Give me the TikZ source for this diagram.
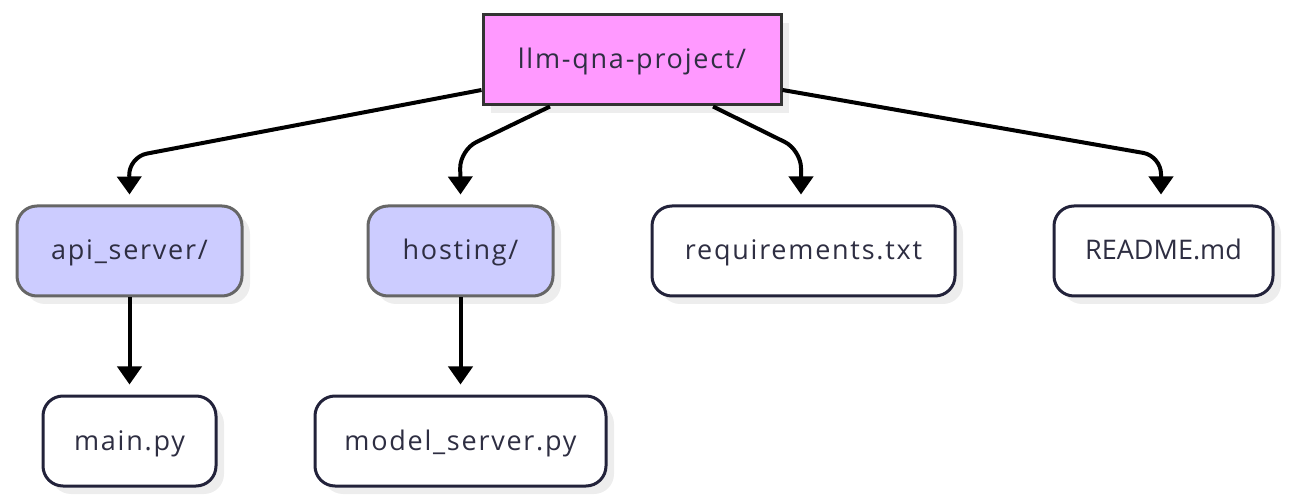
\documentclass[tikz,border=0pt]{standalone}
\usepackage{fontspec}
\setmainfont{Open Sans}
\usetikzlibrary{arrows.meta,shadows}
\definecolor{rootfill}{HTML}{FF99FF}
\definecolor{dirfill}{HTML}{CCCCFF}
\definecolor{txtc}{HTML}{2E2E42}
\definecolor{rootline}{HTML}{333333}
\definecolor{dirline}{HTML}{666666}
\definecolor{fileline}{HTML}{22223A}
\definecolor{shade}{HTML}{EDEDED}
\tikzset{
  base/.style={minimum height=90pt, line width=3pt, text=txtc,
    font=\fontsize{27}{30}\selectfont\addfontfeatures{LetterSpace=6.5},
    inner sep=0pt, anchor=center, text height=24pt, text depth=6pt,
    drop shadow={shadow xshift=8pt, shadow yshift=-8pt, fill=shade, opacity=1}},
  capsfont/.style={font=\fontsize{27}{30}\selectfont},
  rootbox/.style={base, draw=rootline, fill=rootfill},
  dirbox/.style={base, draw=dirline, fill=dirfill, rounded corners=20pt},
  filebox/.style={base, draw=fileline, fill=white, rounded corners=20pt},
  conn/.style={line width=4pt, rounded corners=18pt, -{Triangle[width=24pt,length=18pt]}},
}
\begin{document}
\begin{tikzpicture}[x=1pt,y=-1pt]
\useasboundingbox (0,0) rectangle (1290,502);
\node[rootbox, minimum width=298pt] (root) at (632,60) {llm-qna-project/};
\node[dirbox, minimum width=225pt] (api) at (129.5,251) {api\_server/};
\node[dirbox, minimum width=185pt] (host) at (460.5,251) {hosting/};
\node[filebox, minimum width=303pt] (req) at (803.5,251) {requirements.txt};
\node[filebox, capsfont, minimum width=219pt] (readme) at (1163.5,251) {README.md};
\node[filebox, minimum width=173pt] (main) at (129.5,441) {main.py};
\node[filebox, minimum width=291pt] (model) at (460.5,441) {model\_server.py};
\coordinate (b1) at (129,157);
\coordinate (b2) at (460,150);
\coordinate (b3) at (801,150);
\coordinate (b4) at (1161,156);
\draw[conn] ([yshift=-30pt]root.west) -- (b1) -- ([yshift=10pt]api.north);
\draw[conn] ([xshift=-82pt]root.south) -- (b2) -- ([yshift=10pt]host.north);
\draw[conn] ([xshift=81pt]root.south) -- (b3) -- ([yshift=10pt,xshift=-2.5pt]req.north);
\draw[conn] ([yshift=-30pt]root.east) -- (b4) -- ([yshift=10pt,xshift=-2.5pt]readme.north);
\draw[conn] (api.south) -- ([yshift=10pt]main.north);
\draw[conn] (host.south) -- ([yshift=10pt]model.north);
\end{tikzpicture}
\end{document}
